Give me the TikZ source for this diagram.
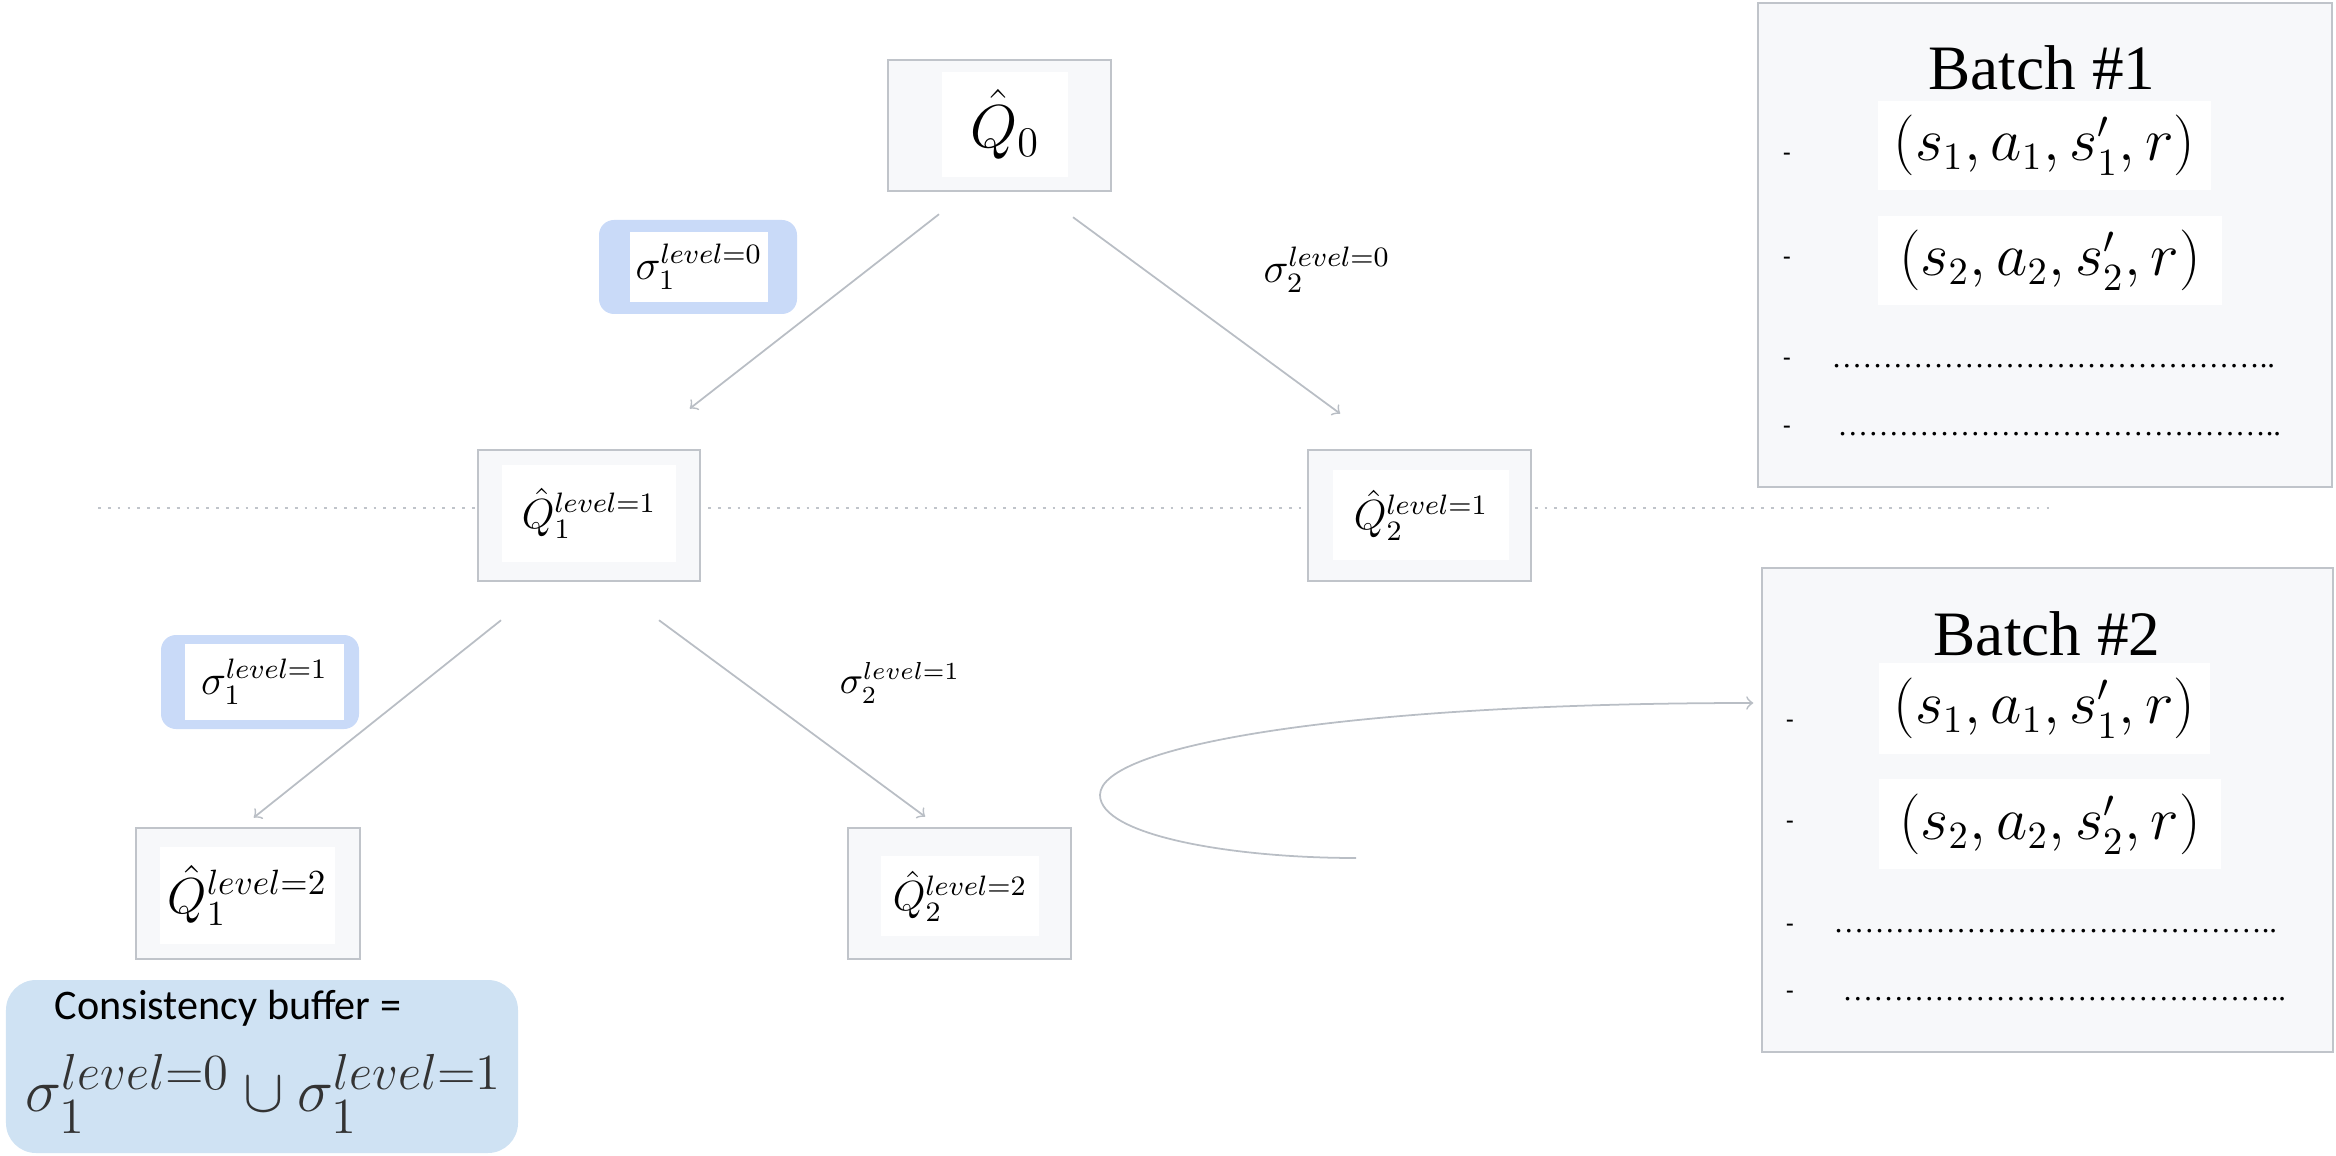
\documentclass[tikz,border=0pt]{standalone}
\usepackage{amsmath,amssymb}
\usepackage{fontspec}
\newfontfamily\timesfont{Liberation Serif}
\newfontfamily\calibrifont{Carlito}
\usepackage{tikz}
\usetikzlibrary{positioning}
\definecolor{boxgray}{RGB}{247,248,250}
\definecolor{edgegray}{RGB}{192,196,202}
\definecolor{arrowgray}{RGB}{185,190,197}
\definecolor{hiblue}{RGB}{201,218,248}
\definecolor{bufblue}{RGB}{207,226,243}

\begin{document}
\begin{tikzpicture}[shorten >=1pt,->]
  \tikzstyle{frame}=[rectangle, draw=edgegray, fill=boxgray, line width=0.7pt, inner sep=0pt]
  \tikzstyle{img}=[rectangle, fill=white, inner sep=0pt]
  \tikzstyle{hilite}=[rectangle, rounded corners=0.15cm, fill=hiblue, inner sep=0pt]
  \tikzstyle{flow}=[draw=arrowgray, line width=0.5pt]
  \tikzstyle{tick}=[inner sep=0pt, font=\timesfont\bfseries\fontsize{6.5}{6}\selectfont]
  \tikzstyle{dotrow}=[anchor=west, inner sep=0pt, font=\timesfont\fontsize{8.7}{10}\selectfont]
  \useasboundingbox (0,0) rectangle (23.36,-11.55);

  % level separator
  \coordinate (L_a) at (0.98,-5.08);
  \coordinate (L_b) at (20.53,-5.08);
  \draw[-, dotted, edgegray, line width=0.8pt] (L_a) -- (L_b);

  % tree
  \node[frame, minimum width=2.23cm, minimum height=1.31cm] (Q_0) at (9.995,-1.255) {};
  \node[img, minimum width=1.26cm, minimum height=1.05cm, font=\fontsize{17}{20}\selectfont] (Q_0l) at (10.05,-1.245) {$\hat{Q}_0$};
  \node[frame, minimum width=2.22cm, minimum height=1.31cm] (Q_11) at (5.89,-5.155) {};
  \node[img, minimum width=1.74cm, minimum height=0.97cm, font=\fontsize{12}{14}\selectfont] (Q_11l) at (5.89,-5.135) {$\hat{Q}_1^{level=1}$};
  \node[frame, minimum width=2.23cm, minimum height=1.31cm] (Q_21) at (14.195,-5.155) {};
  \node[img, minimum width=1.76cm, minimum height=0.90cm, font=\fontsize{12}{14}\selectfont] (Q_21l) at (14.21,-5.15) {$\hat{Q}_2^{level=1}$};
  \node[frame, minimum width=2.24cm, minimum height=1.31cm] (Q_12) at (2.48,-8.935) {};
  \node[img, minimum width=1.75cm, minimum height=0.97cm, font=\fontsize{14}{16}\selectfont] (Q_12l) at (2.475,-8.955) {$\hat{Q}_1^{level=2}$};
  \node[frame, minimum width=2.23cm, minimum height=1.31cm] (Q_22) at (9.595,-8.935) {};
  \node[img, minimum width=1.58cm, minimum height=0.80cm, font=\fontsize{12}{14}\selectfont] (Q_22l) at (9.60,-8.96) {$\hat{Q}_2^{level=2}$};

  \node[hilite, minimum width=1.98cm, minimum height=0.94cm] (S_10) at (6.98,-2.67) {};
  \node[img, minimum width=1.38cm, minimum height=0.70cm, font=\fontsize{11.5}{13}\selectfont] (S_10l) at (6.99,-2.67) {$\sigma_1^{level=0}$};
  \node[hilite, minimum width=1.98cm, minimum height=0.94cm] (S_11) at (2.60,-6.82) {};
  \node[img, minimum width=1.59cm, minimum height=0.76cm, font=\fontsize{11.5}{13}\selectfont] (S_11l) at (2.645,-6.82) {$\sigma_1^{level=1}$};
  \node[font=\fontsize{11.5}{13}\selectfont] (S_20) at (13.27,-2.70) {$\sigma_2^{level=0}$};
  \node[font=\fontsize{10.5}{12}\selectfont] (S_21) at (9.00,-6.83) {$\sigma_2^{level=1}$};

  \draw[flow] ([xshift=-0.605cm,yshift=-0.22cm]Q_0.south) -- ([xshift=0.98cm,yshift=0.38cm]Q_11.north);
  \draw[flow] ([xshift=0.735cm,yshift=-0.25cm]Q_0.south) -- ([xshift=-0.765cm,yshift=0.33cm]Q_21.north);
  \draw[flow] ([xshift=-0.88cm,yshift=-0.38cm]Q_11.south) -- ([xshift=0.03cm,yshift=0.07cm]Q_12.north);
  \draw[flow] ([xshift=0.70cm,yshift=-0.38cm]Q_11.south) -- ([xshift=-0.315cm,yshift=0.08cm]Q_22.north);

  % batches
  \node[frame, minimum width=5.74cm, minimum height=4.84cm] (B_1) at (20.45,-2.45) {};
  \node[font=\timesfont\fontsize{18}{20}\selectfont] (B_1t) at (20.42,-0.68) {Batch \#1};
  \node[img, minimum width=3.33cm, minimum height=0.89cm, font=\fontsize{16}{18}\selectfont] (T_11) at (20.445,-1.455) {$(s_1, a_1, s'_1, r)$};
  \node[img, minimum width=3.44cm, minimum height=0.89cm, font=\fontsize{16}{18}\selectfont] (T_12) at (20.50,-2.605) {$(s_2, a_2, s'_2, r)$};
  \node[tick] (D_11) at (17.87,-1.56) {-};
  \node[tick] (D_12) at (17.87,-2.60) {-};
  \node[tick] (D_13) at (17.87,-3.61) {-};
  \node[tick] (D_14) at (17.87,-4.29) {-};
  \node[dotrow] (R_13) at (18.31,-3.66) {……………………………………..};
  \node[dotrow] (R_14) at (18.37,-4.34) {……………………………………..};

  \node[frame, minimum width=5.71cm, minimum height=4.84cm] (B_2) at (20.475,-8.10) {};
  \node[font=\timesfont\fontsize{18}{20}\selectfont] (B_2t) at (20.47,-6.34) {Batch \#2};
  \node[img, minimum width=3.31cm, minimum height=0.91cm, font=\fontsize{16}{18}\selectfont] (T_21) at (20.445,-7.085) {$(s_1, a_1, s'_1, r)$};
  \node[img, minimum width=3.42cm, minimum height=0.90cm, font=\fontsize{16}{18}\selectfont] (T_22) at (20.50,-8.24) {$(s_2, a_2, s'_2, r)$};
  \node[tick] (D_21) at (17.90,-7.23) {-};
  \node[tick] (D_22) at (17.90,-8.24) {-};
  \node[tick] (D_23) at (17.90,-9.27) {-};
  \node[tick] (D_24) at (17.90,-9.94) {-};
  \node[dotrow] (R_23) at (18.33,-9.31) {……………………………………..};
  \node[dotrow] (R_24) at (18.42,-9.99) {……………………………………..};

  % loop into batch 2
  \coordinate (C_0) at (13.56,-8.58);
  \draw[flow] (C_0) .. controls (12.3,-8.58) and (11.0,-8.35) .. (11.0,-7.95)
    .. controls (11.0,-7.45) and (13.5,-7.03) .. ([xshift=-0.04cm,yshift=1.07cm]B_2.west);

  % consistency buffer
  \node[rectangle, rounded corners=0.3cm, fill=bufblue, minimum width=5.12cm, minimum height=1.73cm] (U) at (2.62,-10.665) {};
  \node[anchor=west, inner sep=0pt, font=\calibrifont\fontsize{12}{14}\selectfont] (U_t) at (0.54,-10.08) {Consistency buffer =};
  \node[text=black!80, font=\fontsize{19}{22}\selectfont] (U_f) at (2.64,-10.94) {$\sigma_1^{level=0} \cup \sigma_1^{level=1}$};
\end{tikzpicture}
\end{document}
